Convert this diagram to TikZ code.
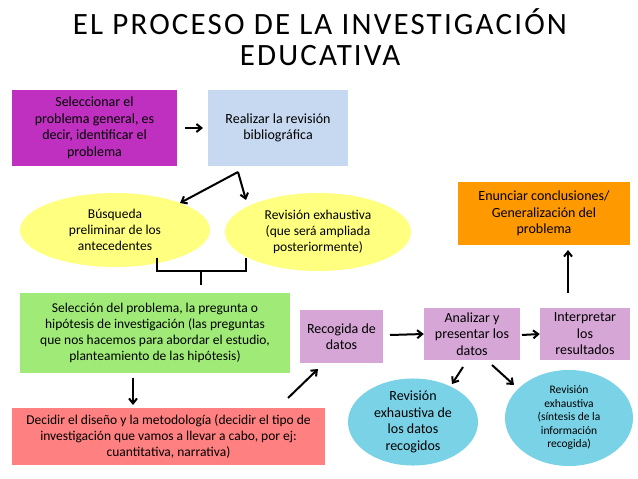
\documentclass[tikz,border=0pt]{standalone}
\usepackage{fontspec}
\setmainfont{Carlito}
\usetikzlibrary{shapes.geometric,arrows.meta}
\begin{document}
\begin{tikzpicture}[x=1pt,y=-1pt,
 box/.style={draw=none,align=center,font=\fontsize{14}{16.5}\selectfont,inner sep=0},
 ell/.style={ellipse,draw=none,align=center,font=\fontsize{13.5}{16}\selectfont,inner sep=0},
 arr/.style={-{Straight Barb[length=5pt,width=8pt]},line width=2pt,black}]
\useasboundingbox (0,0) rectangle (638,479);
\fill[white] (0,0) rectangle (638,479);
\node[font=\fontsize{31}{31}\selectfont\addfontfeature{LetterSpace=7},align=center] (t) at (320,37) {EL PROCESO DE LA INVESTIGACIÓN\\EDUCATIVA};
\node[box,fill={rgb,255:red,192;green,48;blue,192},minimum width=165,minimum height=76] (a) at (94.5,128) {Seleccionar el\\problema general, es\\decir, identificar el\\problema};
\node[box,fill={rgb,255:red,198;green,217;blue,240},minimum width=140,minimum height=76] (b) at (278,128) {Realizar la revisión\\bibliográfica};
\node[ell,fill={rgb,255:red,255;green,255;blue,128},minimum width=190,minimum height=74] (c) at (115,230) {Búsqueda\\preliminar de los\\antecedentes};
\node[ell,fill={rgb,255:red,255;green,255;blue,128},minimum width=186,minimum height=78] (d) at (318,232) {Revisión exhaustiva\\(que será ampliada\\posteriormente)};
\node[box,fill={rgb,255:red,160;green,235;blue,120},minimum width=270,minimum height=80,font=\fontsize{13.5}{16}\selectfont] (e) at (155,333) {Selección del problema, la pregunta o\\hipótesis de investigación (las preguntas\\que nos hacemos para abordar el estudio,\\planteamiento de las hipótesis)};
\node[box,fill={rgb,255:red,255;green,128;blue,128},minimum width=313,minimum height=57,font=\fontsize{13.5}{16}\selectfont] (f) at (168.5,436.5) {Decidir el diseño y la metodología (decidir el tipo de\\investigación que vamos a llevar a cabo, por ej:\\cuantitativa, narrativa)};
\tikzset{lil/.style={box,fill={rgb,255:red,214;green,166;blue,214}}}
\node[lil,minimum width=83,minimum height=53] (g) at (341.5,336.5) {Recogida de\\datos};
\node[lil,minimum width=96,minimum height=52] (h) at (472,334) {Analizar y\\presentar los\\datos};
\node[lil,minimum width=90,minimum height=52] (i) at (585,334) {Interpretar\\los\\resultados};
\node[box,fill={rgb,255:red,255;green,153;blue,0},minimum width=172,minimum height=63] (j) at (544,213.5) {Enunciar conclusiones/\\Generalización del\\problema};
\node[ell,fill={rgb,255:red,122;green,210;blue,230},minimum width=130,minimum height=84,font=\fontsize{14}{16.5}\selectfont] (k) at (413,422) {Revisión\\exhaustiva de\\los datos\\recogidos};
\node[ell,fill={rgb,255:red,122;green,210;blue,230},minimum width=128,minimum height=96,font=\fontsize{11.5}{13.5}\selectfont] (l) at (569,418) {Revisión\\exhaustiva\\(síntesis de la\\información\\recogida)};
\coordinate (bt) at (238,172);
\coordinate (ju) at (568,250);
\draw[arr] (185,128) -- (203,128);
\draw[arr] (bt) -- (180,203);
\draw[arr] (bt) -- (246,200);
\draw[line width=2pt] (157,258) -- (157,271) -- (246,271) -- (246,258);
\draw[line width=2pt] (201,271) -- (201,285);
\draw[arr] (133,378) -- (133,405);
\draw[arr] (288,398) -- (318,369);
\draw[arr] (390,335) -- (h.west);
\draw[arr] (522,335) -- (i.west);
\draw[arr] (568,293) -- (ju);
\draw[arr] (463,367) -- (452,384);
\draw[arr] (492,365) -- (514,385);
\end{tikzpicture}
\end{document}
